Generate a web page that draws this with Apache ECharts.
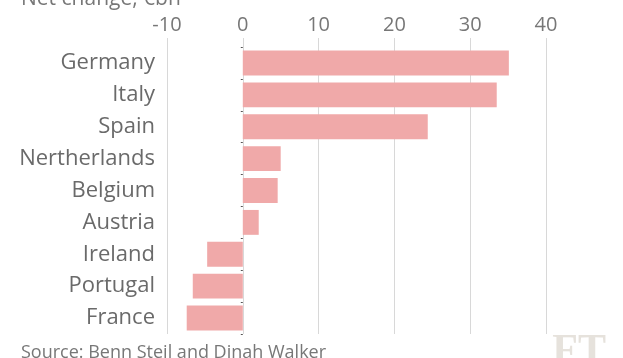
<!DOCTYPE html>
<html><head><meta charset="utf-8">
<script src="https://cdn.jsdelivr.net/npm/echarts@6/dist/echarts.min.js"></script>
<style>html,body{margin:0;padding:0;background:#fff;}#c{width:623px;height:358px;}</style>
</head><body><div id="c"></div>
<script>
const categories = ['Germany','Italy','Spain','Nertherlands','Belgium','Austria','Ireland','Portugal','France'];
const values = [35.1, 33.5, 24.4, 5.0, 4.6, 2.1, -4.7, -6.6, -7.4];
const tickMin = -10, tickMax = 40, tickStep = 10;
const titleText = 'Net change, €bn';
const sourceText = 'Source: Benn Steil and Dinah Walker';

const chart = echarts.init(document.getElementById('c'));
const font = 'Open Sans';
chart.setOption({
  animation: false,
  backgroundColor: '#fff',
  textStyle: {fontFamily: font},
  title: [
    {text: titleText, left: 16, top: -16, textStyle: {fontSize: 21, fontWeight: 'normal', color: '#777', fontFamily: font}},
    {text: sourceText, left: 16, top: 339, textStyle: {fontSize: 18, fontWeight: 'normal', color: '#777', fontFamily: font}},
    {text: 'FT', right: 12, top: 326, textStyle: {fontSize: 42, fontWeight: 'bold', color: '#e6e2dc', fontFamily: 'Liberation Serif'}}
  ],
  grid: {left: 167, right: 77, top: 47, bottom: 24, containLabel: false},
  xAxis: {
    type: 'value', position: 'top', min: tickMin, max: tickMax, interval: tickStep,
    axisLine: {show: false},
    axisTick: {show: true, length: 9, lineStyle: {color: '#d8d8d8'}},
    axisLabel: {fontSize: 20, color: '#777', margin: 12, fontFamily: font},
    splitLine: {show: true, lineStyle: {color: '#d8d8d8', width: 1}}
  },
  yAxis: [
    {type: 'category', data: categories, inverse: true,
     axisLine: {show: false}, axisTick: {show: false},
     axisLabel: {fontSize: 22, color: '#6a6a6a', margin: 12, fontFamily: font}},
    {type: 'category', data: categories, inverse: true, position: 'left',
     axisLine: {show: false, onZero: true, onZeroAxisIndex: 0},
     axisTick: {show: true, length: 2, lineStyle: {color: '#555'}},
     axisLabel: {show: false}}
  ],
  series: [{
    type: 'bar', data: values, barCategoryGap: '22%',
    itemStyle: {color: '#f0a9a9'}
  }]
});
</script></body></html>
